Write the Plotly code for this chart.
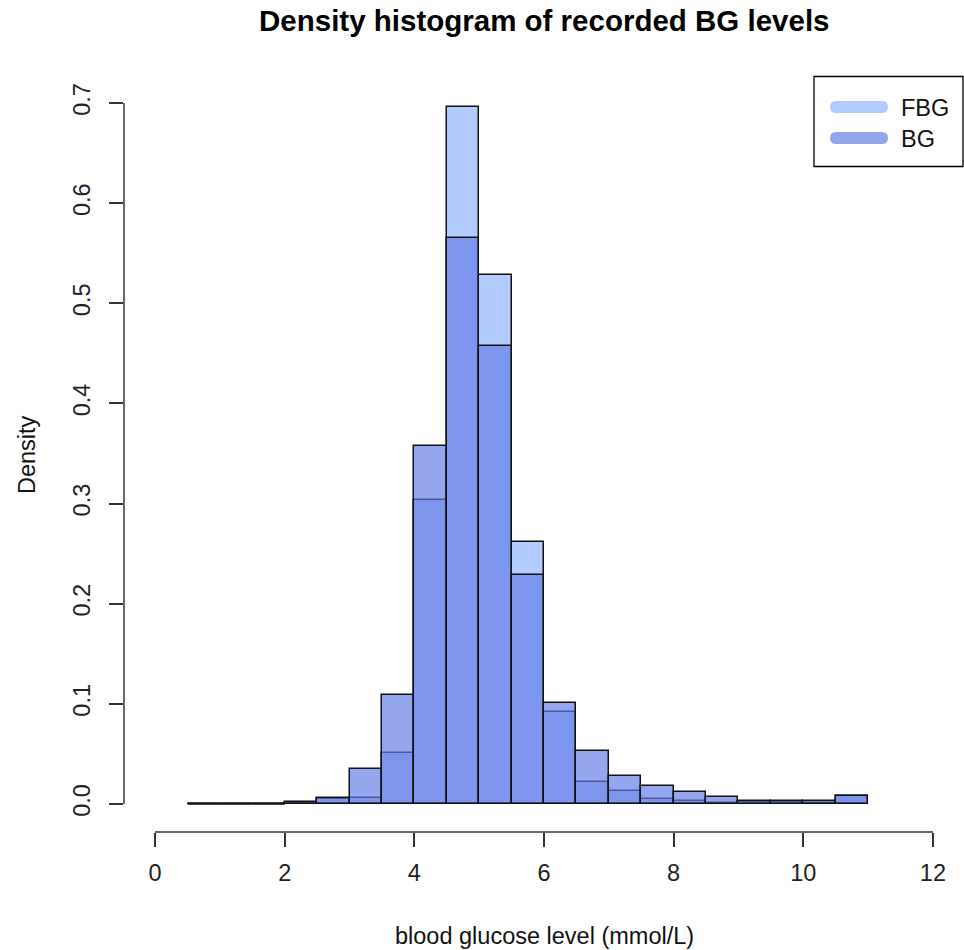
import plotly.graph_objects as go

# ---------------- data ----------------
bin_left = [0.5, 1.0, 1.5, 2.0, 2.5, 3.0, 3.5, 4.0, 4.5, 5.0, 5.5,
            6.0, 6.5, 7.0, 7.5, 8.0, 8.5, 9.0, 9.5, 10.0, 10.5]
bin_width = 0.5
fbg_density = [0, 0, 0, 0.001, 0.005, 0.006, 0.051, 0.304, 0.696, 0.528, 0.262,
               0.092, 0.022, 0.013, 0.0045, 0.003, 0.001, 0.002, 0.002, 0.001, 0.0075]
bg_density = [0, 0, 0, 0.0015, 0.006, 0.035, 0.109, 0.357, 0.565, 0.457, 0.229,
              0.101, 0.053, 0.028, 0.0175, 0.0115, 0.007, 0.0025, 0.0025, 0.003, 0.0075]
series_names = ["FBG", "BG"]
x_ticks = [0, 2, 4, 6, 8, 10, 12]
y_ticks = [0.0, 0.1, 0.2, 0.3, 0.4, 0.5, 0.6, 0.7]
y_ticktext = ["0.0", "0.1", "0.2", "0.3", "0.4", "0.5", "0.6", "0.7"]
title_text = "Density histogram of recorded BG levels"
x_title = "blood glucose level (mmol/L)"
y_title = "Density"

# ---------------- style ----------------
FONT = "Liberation Sans, Arial, sans-serif"
FS = 23.5
FBG_COLOR = "#B3CCFF"
BG_COLOR = "rgba(98,124,230,0.68)"
OUTLINE = "#111111"
AXIS_COL = "#333333"

W, H = 964, 950
ML, MR, MT, MB = 124, 0, 75, 118
PW, PH = W - ML - MR, H - MT - MB


def xp(px):
    return (px - ML) / PW


def yp(py):
    return (H - MB - py) / PH


centers = [l + bin_width / 2 for l in bin_left]

fig = go.Figure()
fig.add_trace(go.Bar(x=centers, y=fbg_density, width=bin_width, name=series_names[0],
                     marker=dict(color=FBG_COLOR, line=dict(color=OUTLINE, width=1.5)),
                     showlegend=False))
fig.add_trace(go.Bar(x=centers, y=bg_density, width=bin_width, name=series_names[1],
                     marker=dict(color=BG_COLOR, line=dict(color=OUTLINE, width=1.5)),
                     showlegend=False))

# zero-height bins are drawn as a line on the baseline (as R does)
zx, zy = [], []
for l, a, b in zip(bin_left, fbg_density, bg_density):
    if a == 0 and b == 0:
        zx += [l, l + bin_width, None]
        zy += [0, 0, None]
fig.add_trace(go.Scatter(x=zx, y=zy, mode="lines", line=dict(color=OUTLINE, width=1.5),
                         showlegend=False, hoverinfo="skip", cliponaxis=False))

shapes = []
# axis lines spanning tick range only (R style)
shapes.append(dict(type="line", xref="x", yref="paper", x0=x_ticks[0], x1=x_ticks[-1],
                   y0=0, y1=0, line=dict(color=AXIS_COL, width=1.5)))
shapes.append(dict(type="line", xref="paper", yref="y", x0=0, x1=0,
                   y0=y_ticks[0], y1=y_ticks[-1], line=dict(color=AXIS_COL, width=1.5)))

# legend box
shapes.append(dict(type="rect", xref="paper", yref="paper",
                   x0=xp(814), x1=xp(963), y0=yp(166.5), y1=yp(76.5),
                   line=dict(color="black", width=1.3), fillcolor="white"))


def rounded_bar(x0, x1, yc, r):
    pts = [
        f"M {xp(x0 + r)},{yp(yc - r)}",
        f"L {xp(x1 - r)},{yp(yc - r)}",
        f"Q {xp(x1)},{yp(yc - r)} {xp(x1)},{yp(yc)}",
        f"Q {xp(x1)},{yp(yc + r)} {xp(x1 - r)},{yp(yc + r)}",
        f"L {xp(x0 + r)},{yp(yc + r)}",
        f"Q {xp(x0)},{yp(yc + r)} {xp(x0)},{yp(yc)}",
        f"Q {xp(x0)},{yp(yc - r)} {xp(x0 + r)},{yp(yc - r)}",
        "Z",
    ]
    return " ".join(pts)


legend_cols = [FBG_COLOR, BG_COLOR]
legend_y = [107, 138]
annotations = []
for name, col, ly in zip(series_names, legend_cols, legend_y):
    shapes.append(dict(type="path", xref="paper", yref="paper", path=rounded_bar(830, 888, ly, 6),
                       fillcolor=col, line=dict(width=0)))
    annotations.append(dict(text=name, xref="paper", yref="paper", x=xp(899), y=yp(ly + 1),
                            xanchor="left", yanchor="middle", showarrow=False,
                            font=dict(family=FONT, size=FS, color="#111")))

# titles
annotations.append(dict(text=f"<b>{title_text}</b>", xref="paper", yref="paper",
                        x=0.5, y=yp(21), xanchor="center", yanchor="middle", showarrow=False,
                        font=dict(family=FONT, size=29.5, color="black")))
annotations.append(dict(text=x_title, xref="paper", yref="paper",
                        x=0.5, y=yp(936), xanchor="center", yanchor="middle", showarrow=False,
                        font=dict(family=FONT, size=FS, color="#111")))
annotations.append(dict(text=y_title, xref="paper", yref="paper",
                        x=xp(27), y=yp(455), xanchor="center", yanchor="middle", showarrow=False,
                        textangle=-90, font=dict(family=FONT, size=FS, color="#111")))

fig.update_layout(
    width=W, height=H,
    margin=dict(l=ML, r=MR, t=MT, b=MB, pad=0),
    paper_bgcolor="white", plot_bgcolor="white",
    barmode="overlay", bargap=0,
    shapes=shapes, annotations=annotations,
    showlegend=False,
    xaxis=dict(range=[-0.48, 12.48], tickvals=x_ticks, ticktext=[str(t) for t in x_ticks],
               ticks="outside", ticklen=14, tickwidth=1.5, tickcolor=AXIS_COL,
               ticklabelstandoff=6,
               showgrid=False, zeroline=False, showline=False, automargin=False,
               tickfont=dict(family=FONT, size=FS, color="#222")),
    yaxis=dict(range=[-0.028, 0.728], tickvals=y_ticks, ticktext=y_ticktext,
               ticks="outside", ticklen=14, tickwidth=1.5, tickcolor=AXIS_COL, tickangle=-90,
               ticklabelstandoff=10,
               showgrid=False, zeroline=False, showline=False, automargin=False,
               tickfont=dict(family=FONT, size=FS, color="#222")),
)

fig.write_html("out.html")
